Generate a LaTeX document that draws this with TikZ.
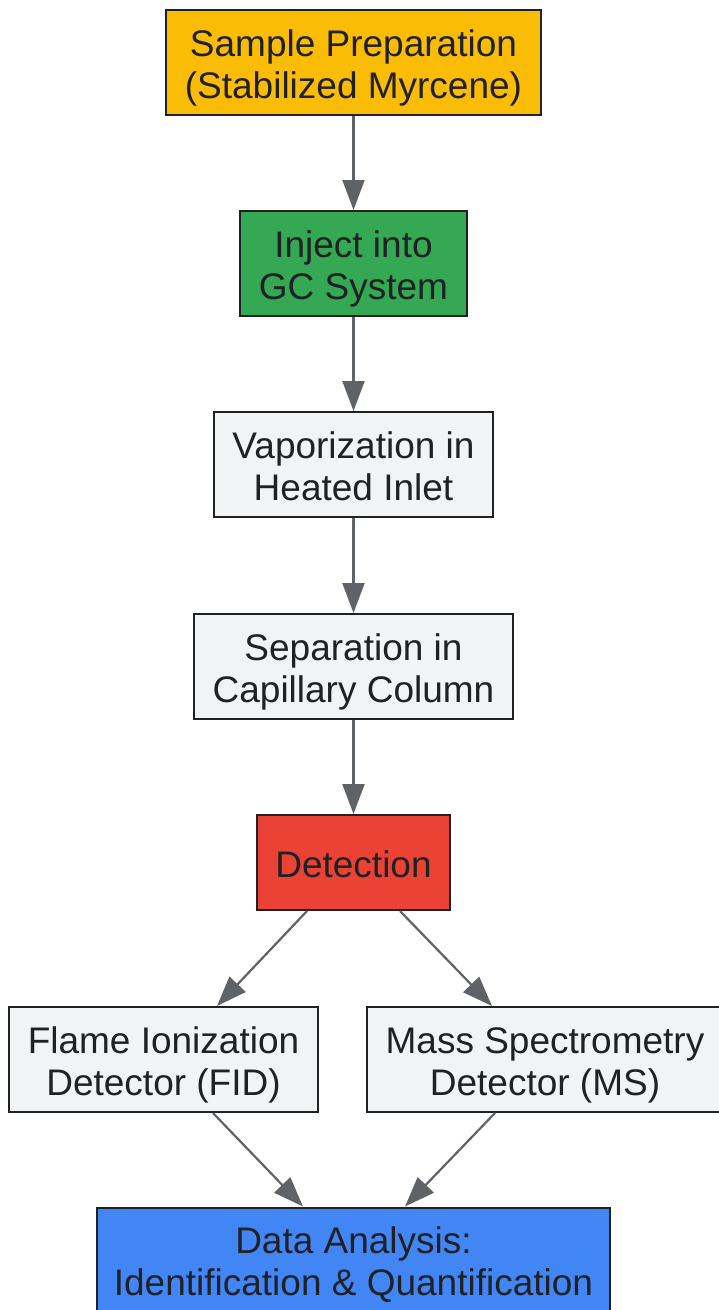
\documentclass[tikz,border=0pt]{standalone}
\usepackage{fontspec}
\setmainfont{Liberation Sans}
\usetikzlibrary{arrows.meta}
\definecolor{gcyellow}{HTML}{FBBC05}
\definecolor{gcgreen}{HTML}{34A853}
\definecolor{gcgray}{HTML}{F1F3F4}
\definecolor{gcred}{HTML}{EA4335}
\definecolor{gcblue}{HTML}{4285F4}
\definecolor{gcline}{HTML}{5F6368}
\definecolor{gctext}{HTML}{202124}
\tikzset{
  box/.style={draw=gctext, line width=2pt, fill=gcgray, text=gctext, align=center,
    inner xsep=18.5pt, minimum height=105pt, font=\fontsize{37}{42}\selectfont,
    text height=84pt, text depth=13pt},
  flow/.style={draw=gcline, line width=2.2pt, -{Triangle[length=30pt,width=22pt]}}
}
\begin{document}
\begin{tikzpicture}[x=1pt,y=-1pt]
            \useasboundingbox (0,0) rectangle (718,1310);
            \node[box,fill=gcyellow] (prep) at (353.5,62.5) {Sample Preparation\\(Stabilized Myrcene)};
            \node[box,fill=gcgreen] (inject) at (353.5,263.5) {Inject into\\GC System};
            \node[box] (vapor) at (353.5,464.5) {Vaporization in\\Heated Inlet};
            \node[box] (sep) at (353.5,666.5) {Separation in\\Capillary Column};
            \node[box,fill=gcred,minimum height=95pt,text height=43pt,text depth=13pt] (detect) at (353.5,862.5) {Detection};
            \node[box] (fid) at (163.5,1059.5) {Flame Ionization\\Detector (FID)};
            \node[box] (ms) at (545,1059.5) {Mass Spectrometry\\Detector (MS)};
            \node[box,fill=gcblue,inner xsep=17pt] (data) at (353.5,1260) {Data Analysis:\\Identification \& Quantification};
            % straight chain
            \draw[flow] (prep) -- (inject);
            \draw[flow] (inject) -- (vapor);
            \draw[flow] (vapor) -- (sep);
            \draw[flow] (sep) -- (detect);
            % branches
            \draw[flow] ([xshift=-46.5pt]detect.south) -- ([xshift=53.5pt]fid.north);
            \draw[flow] ([xshift=46.5pt]detect.south) -- ([xshift=-53pt]ms.north);
            \draw[flow] ([xshift=49.5pt]fid.south) -- ([xshift=-50.5pt]data.north);
            \draw[flow] ([xshift=-50pt]ms.south) -- ([xshift=51.5pt]data.north);
\end{tikzpicture}
\end{document}
